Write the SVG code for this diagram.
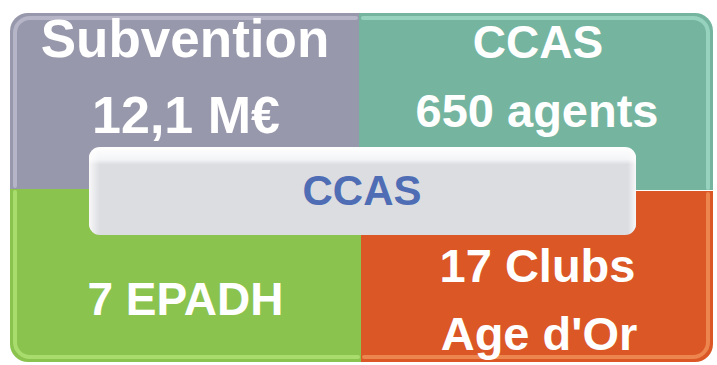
<svg xmlns="http://www.w3.org/2000/svg" width="717" height="365" viewBox="0 0 717 365">
  <defs>
    <linearGradient id="centerGrad" x1="0" y1="0" x2="0" y2="1">
      <stop offset="0" stop-color="#ffffff"/>
      <stop offset="0.14" stop-color="#f4f5f7"/>
      <stop offset="0.2" stop-color="#dcdde1"/>
      <stop offset="1" stop-color="#dcdde1"/>
    </linearGradient>
    <linearGradient id="centerSide" x1="0" y1="0" x2="1" y2="0">
      <stop offset="0" stop-color="#ffffff" stop-opacity="0.8"/>
      <stop offset="0.02" stop-color="#ffffff" stop-opacity="0"/>
      <stop offset="0.985" stop-color="#ffffff" stop-opacity="0"/>
      <stop offset="1" stop-color="#ffffff" stop-opacity="0.8"/>
    </linearGradient>
  </defs>
  <style>
    .lbl { font-family: "Liberation Sans", Arial, sans-serif; font-weight: bold; fill: #ffffff; text-anchor: middle; }
    .center { font-family: "Liberation Sans", Arial, sans-serif; font-weight: bold; fill: #4e6db4; text-anchor: middle; }
    .hl { fill: none; stroke-linecap: round; stroke-width: 4; opacity: 0.6; }
  </style>
  <rect width="717" height="365" fill="#ffffff"/>

  <g id="subvention">
    <path d="M10,31 A18,18 0 0 1 28,13 H359 V189 H10 Z" fill="#9898ac"/>
    <path d="M15,186 V33 A15,15 0 0 1 30,18 H356" class="hl" stroke="#c8c8d8"/>
    <text class="lbl" x="185" y="57" font-size="53">Subvention</text>
    <text class="lbl" x="186" y="133" font-size="52">12,1 M€</text>
  </g>

  <g id="agents">
    <path d="M359,13 H695 A18,18 0 0 1 713,31 V190 H359 Z" fill="#75b5a0"/>
    <path d="M363,18 H693 A15,15 0 0 1 708,33 V188" class="hl" stroke="#aee6d3"/>
    <text class="lbl" x="538" y="58" font-size="46">CCAS</text>
    <text class="lbl" x="537" y="127" font-size="47">650 agents</text>
  </g>

  <g id="epadh">
    <path d="M10,189 H361 V362 H28 A18,18 0 0 1 10,344 Z" fill="#8bc34f"/>
    <path d="M15,192 V342 A15,15 0 0 0 30,357 H358" class="hl" stroke="#bdee84"/>
    <text class="lbl" x="185.5" y="315" font-size="46">7 EPADH</text>
  </g>

  <g id="clubs">
    <path d="M361,191 H713 V344 A18,18 0 0 1 695,362 H361 Z" fill="#db5725"/>
    <path d="M708,194 V342 A15,15 0 0 1 693,357 H364" class="hl" stroke="#f9a36a"/>
    <text class="lbl" x="537.5" y="282" font-size="47">17 Clubs</text>
    <text class="lbl" x="539" y="350" font-size="47">Age d'Or</text>
  </g>

  <g id="ccas-center">
    <rect x="89" y="147" width="547" height="88" rx="11" fill="url(#centerGrad)"/>
    <rect x="89" y="147" width="547" height="88" rx="11" fill="url(#centerSide)"/>
    <text class="center" x="362" y="205" font-size="42">CCAS</text>
  </g>

  <g id="connectors"/>
</svg>
